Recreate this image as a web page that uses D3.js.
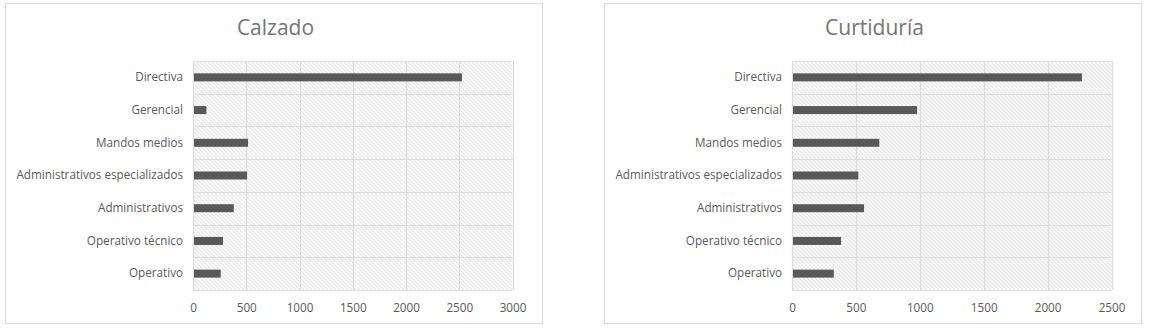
<!DOCTYPE html>
<html>
<head>
<meta charset="utf-8">
<script src="https://cdn.jsdelivr.net/npm/d3@7"></script>
<style>
  body { margin: 0; background: #fff; }
  svg { display: block; }
</style>
</head>
<body>
<svg id="chart" width="1149" height="330"></svg>
<script>
// categories, top to bottom
const categories = [
    'Directiva',
    'Gerencial',
    'Mandos medios',
    'Administrativos especializados',
    'Administrativos',
    'Operativo técnico',
    'Operativo',
];

const calzadoValues = [2525, 126, 517, 508, 383, 282, 260];
const curtiduriaValues = [2269, 979, 683, 519, 564, 384, 327];

const calzadoTicks = [0, 500, 1000, 1500, 2000, 2500, 3000];
const curtiduriaTicks = [0, 500, 1000, 1500, 2000, 2500];

const titles = ['Calzado', 'Curtiduría'];

const svg = d3.select('#chart');

// hatch pattern for plot area
const defs = svg.append('defs');
const pat = defs.append('pattern')
    .attr('id', 'hatch')
    .attr('patternUnits', 'userSpaceOnUse')
    .attr('width', 4)
    .attr('height', 4);
pat.append('rect')
    .attr('width', 4)
    .attr('height', 4)
    .attr('fill', '#fff');
pat.append('path')
    .attr('d', 'M0,0 L4,4 M-1,3 L1,5 M3,-1 L5,1')
    .attr('stroke', '#e2e2e2')
    .attr('stroke-width', 1.1);

function drawChart(left, title, values, ticks) {
    const w = 537, h = 320;
    const plot = {left: 188, right: 507.5, top: 58, bottom: 287};

    const g = svg.append('g')
        .attr('transform', `translate(${left},3)`);

    g.append('rect')
        .attr('x', 0.5)
        .attr('y', 0.5)
        .attr('width', w)
        .attr('height', h)
        .attr('fill', '#fff')
        .attr('stroke', '#d9d9d9');

    g.append('text')
        .text(title)
        .attr('x', w / 2 + 2)
        .attr('y', 32)
        .attr('text-anchor', 'middle')
        .style('font-family', '"Open Sans", sans-serif')
        .style('font-size', '21px')
        .style('fill', '#757575');

    const x = d3.scaleLinear()
        .domain([0, ticks[ticks.length - 1]])
        .range([plot.left, plot.right]);

    const rows = d3.scaleBand()
        .domain(categories)
        .range([plot.top, plot.bottom]);

    const y = d3.scaleBand()
        .domain(categories)
        .range([plot.top, plot.bottom])
        .paddingInner(0.755)
        .paddingOuter(0.3775);

    // plot background
    g.append('rect')
        .attr('x', plot.left)
        .attr('y', plot.top)
        .attr('width', plot.right - plot.left)
        .attr('height', plot.bottom - plot.top)
        .attr('fill', 'url(#hatch)');

    // vertical gridlines
    g.append('g')
        .selectAll('line')
        .data(ticks)
        .enter().append('line')
        .attr('x1', d => Math.round(x(d)) + 0.5)
        .attr('x2', d => Math.round(x(d)) + 0.5)
        .attr('y1', plot.top)
        .attr('y2', plot.bottom)
        .style('stroke', '#dcdcdc')
        .style('stroke-width', 1.2);

    // horizontal gridlines (category boundaries)
    const bounds = categories.map(c => rows(c)).concat([plot.bottom]);
    g.append('g')
        .selectAll('line')
        .data(bounds)
        .enter().append('line')
        .attr('x1', plot.left)
        .attr('x2', plot.right)
        .attr('y1', d => Math.round(d) + 0.5)
        .attr('y2', d => Math.round(d) + 0.5)
        .style('stroke', '#dcdcdc')
        .style('stroke-width', 1.2);

    // bars
    g.append('g')
        .selectAll('rect')
        .data(values)
        .enter().append('rect')
        .attr('x', x(0) + 1)
        .attr('y', (d, i) => y(categories[i]))
        .attr('width', d => x(d) - x(0) - 1)
        .attr('height', y.bandwidth())
        .attr('fill', '#595959');

    // category axis
    const yAxis = g.append('g')
        .attr('transform', `translate(${plot.left},0)`)
        .call(d3.axisLeft(rows).tickSize(0).tickPadding(10));
    yAxis.select('.domain').remove();
    yAxis.selectAll('text')
        .style('font-family', '"Open Sans", sans-serif')
        .style('font-size', '11.7px')
        .style('fill', '#595959');

    // value axis
    const xAxis = g.append('g')
        .attr('transform', `translate(0,${plot.bottom})`)
        .call(d3.axisBottom(x).tickValues(ticks).tickSize(0).tickPadding(14).tickFormat(d3.format('d')));
    xAxis.select('.domain').remove();
    xAxis.selectAll('text')
        .style('font-family', '"Open Sans", sans-serif')
        .style('font-size', '11.7px')
        .style('fill', '#595959');
}

drawChart(5, titles[0], calzadoValues, calzadoTicks);
drawChart(604, titles[1], curtiduriaValues, curtiduriaTicks);
</script>
</body>
</html>
